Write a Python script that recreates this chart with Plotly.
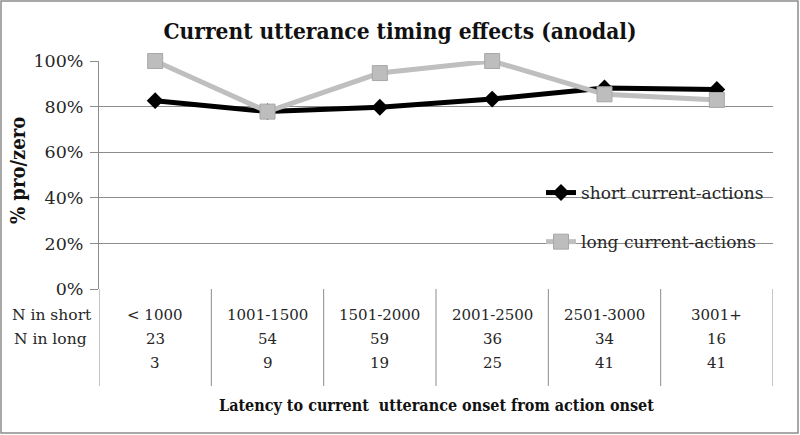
import plotly.graph_objects as go

categories = ["< 1000", "1001-1500", "1501-2000", "2001-2500", "2501-3000", "3001+"]
short_pct = [82.6, 77.8, 79.7, 83.3, 88.2, 87.5]
long_pct = [100.0, 77.8, 94.7, 100.0, 85.4, 82.9]
n_short = [23, 54, 59, 36, 34, 16]
n_long = [3, 9, 19, 25, 41, 41]
row_labels = ["N in short", "N in long"]
y_ticks = [0, 20, 40, 60, 80, 100]

W, H = 800, 435
L, R, T, B = 99, 27, 61, 146
plot_h = H - T - B

def py(p):
    return (H - B - p) / plot_h

def px(p):
    return (p - L) / (W - L - R)

FONT = "DejaVu Serif, serif"
TFONT = "DejaVu Serif Condensed, DejaVu Serif, serif"
TXT = "#262626"
xs = list(range(len(categories)))

fig = go.Figure()
fig.add_trace(go.Scatter(
    x=xs, y=short_pct, name="short current-actions", mode="lines+markers",
    line=dict(color="black", width=5),
    marker=dict(symbol="diamond", size=13, color="black"),
    cliponaxis=False, legendgroup="a"))
fig.add_trace(go.Scatter(
    x=xs, y=long_pct, name="long current-actions", mode="lines+markers",
    line=dict(color="#BFBFBF", width=5),
    marker=dict(symbol="square", size=15, color="#BDBDBD", line=dict(color="#A8A8A8", width=1)),
    cliponaxis=False, legendgroup="b"))

shapes = []
for i in range(len(categories) + 1):
    shapes.append(dict(type="line", xref="x", yref="paper", x0=i - 0.5, x1=i - 0.5,
                       y0=0, y1=py(386), line=dict(color="#8C8C8C", width=1)))
shapes.append(dict(type="rect", xref="paper", yref="paper", x0=px(1), x1=px(798),
                   y0=py(433), y1=py(1), line=dict(color="#8C8C8C", width=1.5)))

def note(x, y, text, size, family=FONT, xref="x", xanchor="center", color=TXT, **kw):
    return dict(x=x, y=y, xref=xref, yref="paper", text=text, showarrow=False,
                xanchor=xanchor, yanchor="middle", font=dict(size=size, family=family, color=color), **kw)

ann = []
for i, c in enumerate(categories):
    ann.append(note(i, py(315), c, 15))
    ann.append(note(i, py(339), str(n_short[i]), 15))
    ann.append(note(i, py(363), str(n_long[i]), 15))
ann.append(note(px(94), py(315), row_labels[0], 15.5, xref="paper", xanchor="right"))
ann.append(note(px(50), py(339), row_labels[1], 15.5, xref="paper", xanchor="center"))
ann.append(note(px(436), py(405), "<b>Latency to current  utterance onset from action onset</b>", 16,
                family=TFONT, xref="paper", color="#111"))
ann.append(note(px(18), py(171), "<b>% pro/zero</b>", 20, family=TFONT, xref="paper",
                color="#111", textangle=-90))

fig.update_layout(
    width=W, height=H, margin=dict(l=L, r=R, t=T, b=B),
    paper_bgcolor="white", plot_bgcolor="white",
    title=dict(text="<b>Current utterance timing effects (anodal)</b>", x=0.5, xanchor="center",
               y=1 - 31 / H, yanchor="middle", font=dict(size=22.5, family=TFONT, color="#111")),
    xaxis=dict(range=[-0.5, 5.5], showticklabels=False, showgrid=False, zeroline=False,
               showline=False, ticks=""),
    yaxis=dict(range=[0, 100], tickvals=y_ticks, ticktext=[f"{v}%" for v in y_ticks],
               showgrid=True, gridcolor="#8C8C8C", gridwidth=1, zeroline=False,
               showline=True, linecolor="#8C8C8C", ticks="outside", ticklen=8, tickcolor="#8C8C8C",
               tickfont=dict(size=17.5, family=FONT, color=TXT), ticklabelstandoff=3),
    showlegend=True,
    legend=dict(x=px(541), y=py(175), xanchor="left", yanchor="top", bgcolor="rgba(0,0,0,0)",
                font=dict(size=17, family=FONT, color=TXT), tracegroupgap=24,
                itemwidth=30),
    shapes=shapes, annotations=ann,
)
fig.write_html("out.html", config={"displayModeBar": False},
               post_script="document.body.style.margin='0';")
